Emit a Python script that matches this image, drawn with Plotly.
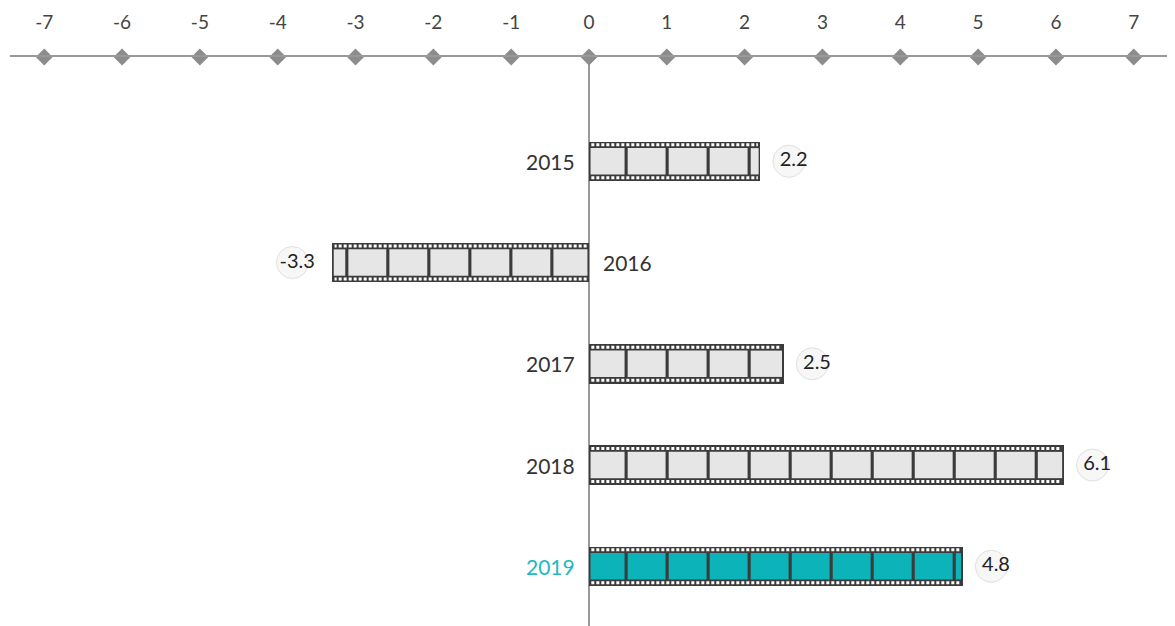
import math
import plotly.graph_objects as go

years = ["2015", "2016", "2017", "2018", "2019"]
values = [2.2, -3.3, 2.5, 6.1, 4.8]
highlight = "2019"
tick_vals = list(range(-7, 8))

X_RANGE = [-7.44, 7.53]
Y_RANGE = [4.59, -1.03]
BAR_W = 0.39
FRAME_H = 0.26
PITCH = 0.527
PHASE = 0.05
DIV = 0.04
HOLE_OFF = 0.163
DARK = "#3b3b3b"
GRAY_FRAME = "#e6e6e6"
TEAL = "#0cb3b9"
LABEL_TEAL = "#22b8c2"
FONT = "Lato, sans-serif"

fig = go.Figure()

ys = list(range(len(years)))
fig.add_trace(go.Bar(
    x=values, y=ys, orientation="h", width=BAR_W,
    marker=dict(color=DARK, line=dict(width=0)), hoverinfo="skip",
))

shapes = []
for i, (yr, v) in enumerate(zip(years, values)):
    sgn = 1 if v >= 0 else -1
    L = abs(v)
    fill = TEAL if yr == highlight else GRAY_FRAME
    n = math.ceil((L + PHASE) / PITCH)
    for j in range(n):
        a = max(j * PITCH - PHASE + DIV / 2, 0.02)
        b = min((j + 1) * PITCH - PHASE - DIV / 2, L - 0.02)
        if b <= a:
            continue
        shapes.append(dict(type="rect", xref="x", yref="y",
                           x0=sgn * a, x1=sgn * b,
                           y0=i - FRAME_H / 2, y1=i + FRAME_H / 2,
                           fillcolor=fill, line=dict(width=0), layer="above"))
    for off in (-HOLE_OFF, HOLE_OFF):
        fig.add_trace(go.Scatter(
            x=[sgn * 0.03, sgn * (L - 0.03)], y=[i + off, i + off],
            mode="lines", line=dict(color="white", width=3, dash="3px,2px"),
            hoverinfo="skip", showlegend=False,
        ))

# value label icons + text
lab_x = [v + (0.43 if v >= 0 else -0.45) for v in values]
fig.add_trace(go.Scatter(
    x=[x - 0.06 for x in lab_x], y=ys, mode="markers",
    marker=dict(symbol="circle", size=32, color="rgba(240,240,240,0.5)",
                line=dict(color="#e0e0e0", width=1)),
    hoverinfo="skip", showlegend=False,
))
fig.add_trace(go.Scatter(
    x=lab_x, y=ys, mode="text", text=[f"{v:g}" for v in values],
    textfont=dict(family=FONT, size=20, color="#222"),
    textposition="middle center", hoverinfo="skip", showlegend=False,
))

# year labels on the opposite side of zero
for i, (yr, v) in enumerate(zip(years, values)):
    col = LABEL_TEAL if yr == highlight else "#333"
    fig.add_annotation(
        x=0, y=i, xref="x", yref="y", text=yr, showarrow=False,
        xanchor="right" if v >= 0 else "left",
        xshift=-12 if v >= 0 else 12,
        font=dict(family=FONT, size=21, color=col),
    )

# diamonds on axis
fig.add_trace(go.Scatter(
    x=tick_vals, y=[Y_RANGE[1]] * len(tick_vals), mode="markers",
    marker=dict(symbol="diamond", size=13, color="#8c8c8c"),
    cliponaxis=False, hoverinfo="skip", showlegend=False,
))

# page body has an 8px margin; size the figure so it fills the window
fig.update_layout(
    width=1167, height=618,
    margin=dict(l=2, r=0, t=49, b=0),
    paper_bgcolor="white", plot_bgcolor="white",
    showlegend=False, shapes=shapes, bargap=0,
    xaxis=dict(range=X_RANGE, side="top", tickmode="array", tickvals=tick_vals,
               ticktext=[str(t) for t in tick_vals], showgrid=False,
               showline=True, linecolor="#999", linewidth=2, ticks="",
               ticklabelstandoff=18,
               tickfont=dict(family=FONT, size=19, color="#444"),
               zeroline=True, zerolinecolor="#999", zerolinewidth=2),
    yaxis=dict(range=Y_RANGE, visible=False, showgrid=False, zeroline=False),
)

fig.write_html("out.html")
